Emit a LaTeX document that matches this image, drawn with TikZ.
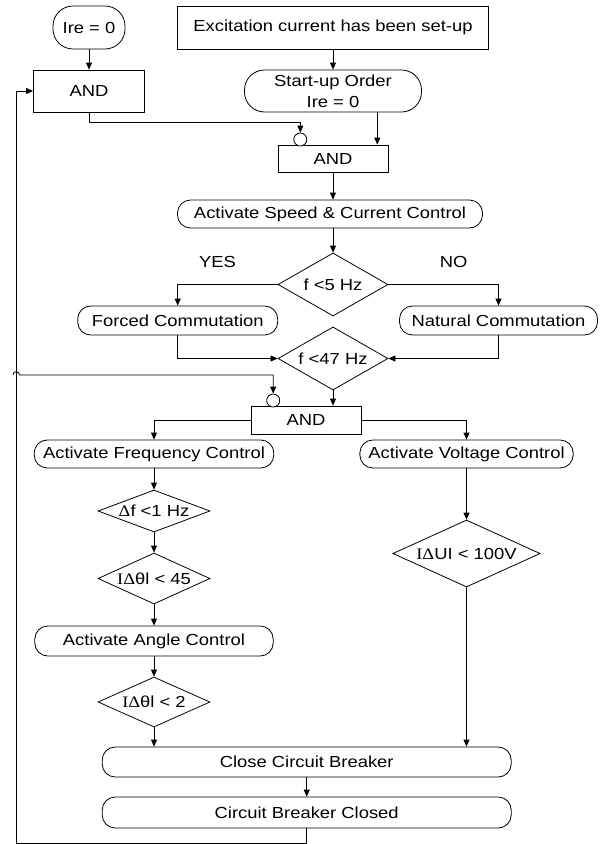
\documentclass[tikz,border=0pt]{standalone}
\usepackage{fontspec}
\setmainfont{Liberation Sans}[FakeStretch=1.15]
\newfontfamily\symf{Liberation Serif}[FakeStretch=1.15]
\usepackage{tikz}
\usetikzlibrary{arrows.meta,shapes.geometric,calc}
\tikzstyle{term}=[rectangle,rounded corners=13pt,draw=black,
  line width=0.8pt,inner sep=0pt]
\tikzstyle{gate}=[rectangle,draw=black,line width=0.8pt,inner sep=0pt]
\tikzstyle{test}=[diamond,draw=black,line width=0.8pt,inner sep=0pt]
\tikzstyle{neg}=[circle,draw=black,line width=0.8pt,inner sep=0pt,
  minimum size=13pt,fill=white]
\tikzstyle{none}=[]
\tikzstyle{flow}=[line width=0.8pt,-{Triangle[length=7pt,width=6pt]}]

\begin{document}
\begin{tikzpicture}[x=1pt,y=-1pt,font=\fontsize{16}{19}\selectfont]
    \useasboundingbox (0,0) rectangle (605,844);
            \node [style=term,rounded corners=20pt,minimum width=72pt,minimum height=43pt] (0) at (89, 27.5) {Ire = 0};
            \node [style=gate,minimum width=311pt,minimum height=43pt] (1) at (333, 27.5) {Excitation current has been set-up};
            \node [style=gate,minimum width=111pt,minimum height=42pt] (2) at (89, 91) {AND};
            \node [style=term,rounded corners=20pt,minimum width=177pt,minimum height=42pt,align=center,
              font=\fontsize{16}{21}\selectfont] (3) at (333, 91) {Start-up Order\\Ire = 0};
            \node [style=gate,minimum width=110pt,minimum height=27pt] (5) at (333, 158.5) {AND};
            \node [style=neg] (4) at (300.3, 139.5) {};
            \node [style=term,minimum width=305pt,minimum height=28pt] (6) at (330, 214) {Activate Speed \& Current Control};
            \node [style=test,aspect=1.75,minimum width=110pt,minimum height=63pt] (7) at (333, 284.5) {f <5 Hz};
            \node [style=none] (8) at (217.6, 262) {YES};
            \node [style=none] (9) at (453.7, 262) {NO};
            \node [style=term,minimum width=200pt,minimum height=29pt] (10) at (177.7, 320.5) {Forced Commutation};
            \node [style=term,minimum width=198pt,minimum height=29pt] (11) at (498.5, 320.5) {Natural Commutation};
            \node [style=test,aspect=1.75,minimum width=110pt,minimum height=63pt] (12) at (333, 358.5) {f <47 Hz};
            \node [style=gate,minimum width=110pt,minimum height=28pt] (14) at (306, 420) {AND};
            \node [style=neg] (13) at (273.2, 400.5) {};
            \node [style=term,minimum width=239.6pt,minimum height=28pt] (15) at (154, 454) {Activate Frequency Control};
            \node [style=term,minimum width=213.3pt,minimum height=28pt] (16) at (466.5, 454) {Activate Voltage Control};
            \node [style=test,aspect=2.67,minimum width=112pt,minimum height=42pt] (17) at (154, 511) {{\symf Δ}f <1 Hz};
            \node [style=test,aspect=2.2,minimum width=112pt,minimum height=51pt] (18) at (154, 578.5) {{\symf IΔ}θl < 45};
            \node [style=term,minimum width=238.4pt,minimum height=30pt] (19) at (154, 641) {Activate Angle Control};
            \node [style=test,aspect=2.24,minimum width=112pt,minimum height=50pt] (20) at (154, 702) {{\symf IΔ}θl < 2};
            \node [style=test,aspect=2.2,minimum width=147.4pt,minimum height=67pt] (21) at (466.5, 553.5) {{\symf IΔ}UI < 100V};
            \node [style=term,minimum width=409pt,minimum height=30pt] (22) at (306.7, 762) {Close Circuit Breaker};
            \node [style=term,minimum width=409pt,minimum height=31pt] (23) at (306.7, 812.5) {Circuit Breaker Closed};
            \node [style=none] (30) at (300.3, 122) {};
            \node [style=none] (31) at (377.3, 130) {};
            \node [style=none] (36) at (12.9, 375) {};
            \node [style=none] (37) at (273.2, 375) {};
            \node [style=none] (40) at (16.2, 843) {};
            \draw [style=flow] (0) to (2);
            \draw [style=flow] (1) to (3);
            \draw [style=flow] (2) |- (30.center) to (4);
            \draw [style=flow] (3.south -| 31) to (5.north -| 31);
            \draw [style=flow] (5.south) to (5.south |- 6.north);
            \draw [style=flow] (6.south -| 7) to (7);
            \draw [style=flow] (7) -| (10);
            \draw [style=flow] (7) -| (11);
            \draw [style=flow] (10) |- (12);
            \draw [style=flow] (11) |- (12);
            \draw [style=flow] (12.south) to (12.south |- 14.north);
            \draw [style=flow] (36.center) arc [start angle=180, end angle=0, radius=3.3pt] -- (37.center) to (13);
            \draw [style=flow] (14) -| (15);
            \draw [style=flow] (14) -| (16);
            \draw [style=flow] (15) to (17);
            \draw [style=flow] (17) to (18);
            \draw [style=flow] (18) to (19);
            \draw [style=flow] (19) to (20);
            \draw [style=flow] (20) to (20 |- 22.north);
            \draw [style=flow] (16) to (21);
            \draw [style=flow] (21) to (21 |- 22.north);
            \draw [style=flow] (22) to (23);
            \draw [style=flow] (23) |- (40.center) |- (2);
    \end{tikzpicture}
\end{document}
